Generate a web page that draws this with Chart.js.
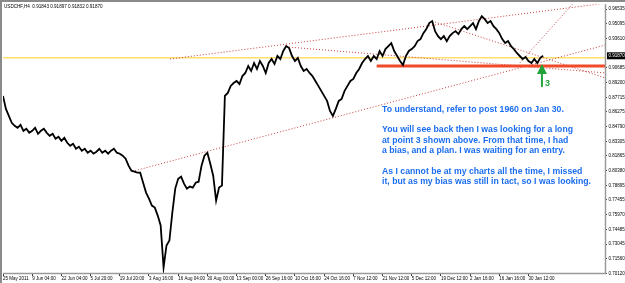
<!DOCTYPE html>
<html><head><meta charset="utf-8">
<script src="https://cdn.jsdelivr.net/npm/chart.js@4.4.1/dist/chart.umd.min.js"></script>
<style>html,body{margin:0;padding:0;background:#fff;overflow:hidden}canvas{display:block}</style>
</head><body>
<canvas id="c" width="625" height="283"></canvas>
<script>
const symbolTitle = "USDCHF,H4  0.91843 0.91897 0.91832 0.91870";
const timeLabels = ["25 May 2011","9 Jun 04:00","22 Jun 04:00","5 Jul 20:00","19 Jul 20:00","3 Aug 16:00","16 Aug 04:00","30 Aug 00:00","13 Sep 00:00","26 Sep 16:00","10 Oct 16:00","24 Oct 16:00","7 Nov 12:00","21 Nov 12:00","5 Dec 12:00","19 Dec 12:00","2 Jan 16:00","16 Jan 16:00","30 Jan 12:00"];
const timeLabelDays = [0,10,20,30,40,50,60,70,80,90,100,110,120,130,140,150,160,170,180];
const priceTicks = [0.96535,0.95095,0.93610,0.90685,0.89200,0.87715,0.86275,0.84790,0.83305,0.81865,0.80380,0.78895,0.77455,0.75970,0.74485,0.73045,0.71560,0.70120];
const currentPrice = 0.91870;
// one value per trading day (approximate closes)
const closes = [
0.8786,0.8656,0.8586,0.8517,0.8487,0.8467,0.8497,0.8437,0.8457,0.8417,
0.8437,0.8467,0.8407,0.8437,0.8457,0.8417,0.8387,0.8407,0.8357,0.8377,
0.8337,0.8367,0.8317,0.8287,0.8307,0.8257,0.8277,0.8238,0.8257,0.8218,
0.8238,0.8208,0.8228,0.8257,0.8218,0.8238,0.8208,0.8238,0.8257,0.8218,
0.8208,0.8188,0.8158,0.8088,0.8038,0.8028,0.8018,0.8018,0.7918,0.7819,
0.7759,0.7689,0.7669,0.7589,0.7490,0.7071,0.7290,0.7340,0.7619,0.7859,
0.7958,0.7978,0.7908,0.7859,0.7879,0.7869,0.7918,0.7928,0.8088,0.8188,
0.8218,0.8108,0.7988,0.7739,0.7869,0.7889,0.8786,0.8816,0.8886,0.8915,
0.8935,0.8905,0.8985,0.9015,0.9085,0.9035,0.9115,0.9055,0.9135,0.9085,
0.9015,0.9115,0.9155,0.9105,0.9185,0.9155,0.9235,0.9284,0.9264,0.9185,
0.9135,0.9165,0.9085,0.9035,0.9055,0.9015,0.8985,0.8935,0.8886,0.8836,
0.8786,0.8736,0.8636,0.8586,0.8656,0.8736,0.8756,0.8836,0.8886,0.8935,
0.8955,0.9015,0.9055,0.9115,0.9155,0.9185,0.9135,0.9185,0.9155,0.9235,
0.9185,0.9254,0.9284,0.9314,0.9235,0.9185,0.9135,0.9095,0.9185,0.9235,
0.9254,0.9284,0.9334,0.9354,0.9414,0.9454,0.9514,0.9534,0.9434,0.9384,
0.9354,0.9384,0.9334,0.9384,0.9414,0.9434,0.9404,0.9454,0.9484,0.9454,
0.9484,0.9514,0.9454,0.9534,0.9583,0.9554,0.9514,0.9534,0.9484,0.9454,
0.9414,0.9354,0.9314,0.9334,0.9284,0.9254,0.9215,0.9185,0.9155,0.9175,
0.9135,0.9115,0.9155,0.9115,0.9165,0.9187
];
const bidLevel = 0.9168;
const supportLevel = 0.9085;
const supportFromDay = 128;
// trend lines: [startDay, startPrice, endDay, endPrice]
const lowerChannel = [45.2, 0.8038, 206.2, 0.9294];
const upperChannel = [57.2, 0.9155, 206.2, 0.9713];
const fromSepPeak = [98, 0.9274, 206.2, 0.9016];
const fromDecPeak = [147, 0.9534, 206.2, 0.8966];
const steepLine = [177, 0.9115, 196, 0.9733];
const arrowDay = 184.6, arrowFrom = 0.8876, arrowTo = 0.9105;
const noteLines = ["To understand, refer to post 1960 on Jan 30.","","You will see back then I was looking for a long","at point 3 shown above. From that time, I had","a bias, and a plan. I was waiting for an entry.","","As I cannot be at my charts all the time, I missed","it, but as my bias was still in tact, so I was looking."];

const dotted = (a) => ({data:[{x:a[0],y:a[1]},{x:a[2],y:a[3]}], borderColor:'#c83c3c', borderWidth:1, borderDash:[1,2], pointRadius:0, order:3});

const overlay = {
  id:'overlay',
  beforeDatasetsDraw(chart){
    const {ctx} = chart;
    ctx.save();
    ctx.fillStyle='#000'; ctx.font='4.6px Arial'; ctx.textBaseline='middle'; ctx.textAlign='left';
    ctx.fillText(symbolTitle, 4, 7);
    ctx.restore();
  },
  afterDraw(chart){
    const {ctx, chartArea:a, scales:{x,y}} = chart;
    ctx.save();
    ctx.strokeStyle='#8a8a8a'; ctx.lineWidth=2;
    ctx.beginPath(); ctx.moveTo(1,283); ctx.lineTo(1,1); ctx.lineTo(625,1); ctx.stroke();
    ctx.strokeStyle='#9a9a9a'; ctx.lineWidth=1.5;
    ctx.beginPath(); ctx.moveTo(a.left,a.bottom+0.5); ctx.lineTo(a.right+0.5,a.bottom+0.5); ctx.lineTo(a.right+0.5,a.top); ctx.stroke();
    const py = y.getPixelForValue(currentPrice);
    ctx.fillStyle='#000'; ctx.fillRect(a.right+2, py-3.5, 18, 7);
    ctx.fillStyle='#fff'; ctx.font='4.5px Arial'; ctx.textBaseline='middle'; ctx.textAlign='left';
    ctx.fillText(currentPrice.toFixed(5), a.right+3.5, py);
    const ax = x.getPixelForValue(arrowDay), ay1 = y.getPixelForValue(arrowFrom), ay2 = y.getPixelForValue(arrowTo);
    ctx.strokeStyle='#22a33a'; ctx.fillStyle='#22a33a'; ctx.lineWidth=2;
    ctx.beginPath(); ctx.moveTo(ax, ay1); ctx.lineTo(ax, ay2+8); ctx.stroke();
    ctx.beginPath(); ctx.moveTo(ax, ay2); ctx.lineTo(ax-5, ay2+10); ctx.lineTo(ax+5, ay2+10); ctx.closePath(); ctx.fill();
    ctx.font='bold 9px Arial'; ctx.textBaseline='middle';
    ctx.fillText('3', ax+3, ay1-3);
    ctx.fillStyle='#1c6ef0'; ctx.font='bold 8.7px Arial'; ctx.textBaseline='middle';
    noteLines.forEach((t,i)=>{ ctx.fillText(t, 382, 109.5 + i*10.3); });
    ctx.restore();
  }
};

new Chart(document.getElementById('c').getContext('2d'), {
  type:'line',
  data:{datasets:[
    {data:closes.map((v,i)=>({x:i,y:v})), borderColor:'#000', borderWidth:1.8, pointRadius:0, tension:0, order:1},
    {data:[{x:0,y:bidLevel},{x:206.2,y:bidLevel}], borderColor:'#ffdf70', borderWidth:1.5, pointRadius:0, order:4},
    {data:[{x:supportFromDay,y:supportLevel},{x:206.2,y:supportLevel}], borderColor:'#f04a2a', borderWidth:3, pointRadius:0, order:2},
    dotted(lowerChannel), dotted(upperChannel), dotted(fromSepPeak), dotted(fromDecPeak), dotted(steepLine)
  ]},
  options:{
    responsive:false, animation:false, devicePixelRatio:1,
    layout:{padding:{left:3,top:3,right:0,bottom:0}},
    plugins:{legend:{display:false}, tooltip:{enabled:false}},
    scales:{
      x:{type:'linear', min:0, max:206.2, position:'bottom',
        afterFit(s){s.height=10;},
        afterBuildTicks(s){s.ticks=timeLabelDays.map(v=>({value:v}));},
        ticks:{autoSkip:false, maxRotation:0, align:'start', padding:0, font:{size:4.5, family:'Arial'}, color:'#000', callback:(v,i)=>timeLabels[i]},
        grid:{drawOnChartArea:false, tickLength:3, color:'#333'},
        border:{display:false}
      },
      y:{position:'right', min:0.7015, max:0.9703,
        afterFit(s){s.width=20;},
        afterBuildTicks(s){s.ticks=priceTicks.map(v=>({value:v}));},
        ticks:{autoSkip:false, padding:1.5, font:{size:4.5, family:'Arial'}, color:'#000', callback:v=>v.toFixed(5)},
        grid:{drawOnChartArea:false, tickLength:2, color:'#333'},
        border:{display:false}
      }
    }
  },
  plugins:[overlay]
});
</script>
</body></html>
